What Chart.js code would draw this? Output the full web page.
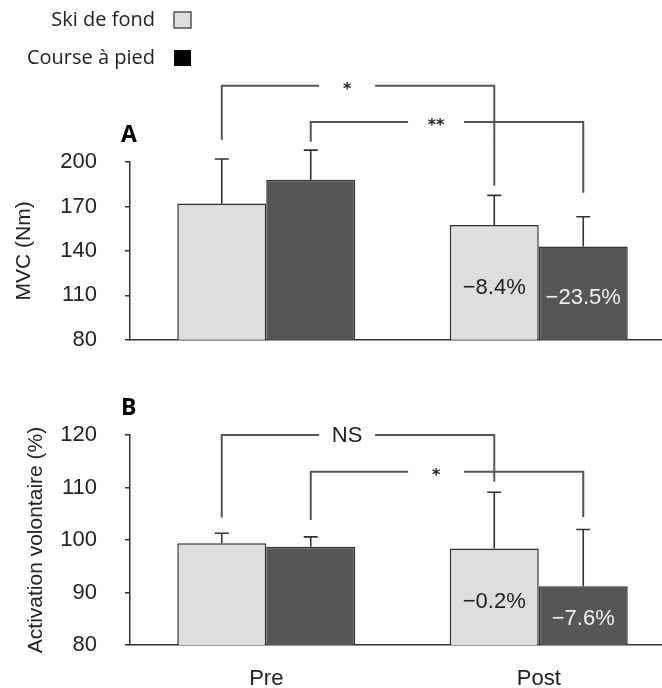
<!DOCTYPE html>
<html>
<head>
<meta charset="utf-8">
<script src="https://cdn.jsdelivr.net/npm/chart.js@4.4.1/dist/chart.umd.min.js"></script>
<style>
  html, body { margin: 0; padding: 0; background: #fff; overflow: hidden; }
  #wrap { position: relative; width: 662px; height: 688px; overflow: hidden; }
  #wrap canvas { position: absolute; left: 0; }
</style>
</head>
<body>
<div id="wrap">
  <canvas id="chartA" width="675" height="381" style="top:0"></canvas>
  <canvas id="chartB" width="675" height="308" style="top:380px"></canvas>
</div>
<script>
// --- data ---
const groups = ['Pre', 'Post'];
const seriesNames = ['Ski de fond', 'Course à pied'];

const mvcSki = [172, 157.5];
const mvcRun = [188, 143];
const mvcSkiErr = [30, 20];
const mvcRunErr = [20, 20];
const mvcChange = ['−8.4%', '−23.5%'];
const mvcTicks = [80, 110, 140, 170, 200];

const actSki = [99.4, 98.4];
const actRun = [98.7, 91.2];
const actSkiErr = [1.9, 10.7];
const actRunErr = [1.9, 10.8];
const actChange = ['−0.2%', '−7.6%'];
const actTicks = [80, 90, 100, 110, 120];

// significance brackets (values in axis units): Pre bar -> Post bar of one series
const mvcBrackets = [
    { series: 0, label: '*',  level: 251.5, fromLow: 215, toLow: 184 },
    { series: 1, label: '**', level: 227,   fromLow: 213.7, toLow: 179.3 }
];
const actBrackets = [
    { series: 0, label: 'NS', level: 120, fromLow: 104.3, toLow: 111.1 },
    { series: 1, label: '*',  level: 113, fromLow: 103.8, toLow: 104.4 }
];

// --- styles ---
const LIGHT = '#dedede', DARK = '#565656', EDGE = '#2e2e2e', INK = '#222', LINE = '#555';
const SANS = '"Liberation Sans", Arial, sans-serif';
const LEG_FONT = '"Open Sans", sans-serif';

function decor(cfg) {
    return {
        id: 'decor',
        afterDatasetsDraw(chart) {
            const ctx = chart.ctx, y = chart.scales.y, area = chart.chartArea;
            const base = y.getPixelForValue(y.min);
            ctx.save();

            // upper error bars
            cfg.errors.forEach((errs, s) => {
                chart.getDatasetMeta(s).data.forEach((bar, i) => {
                    const top = y.getPixelForValue(chart.data.datasets[s].data[i] + errs[i]);
                    ctx.strokeStyle = '#333'; ctx.lineWidth = 1.6;
                    ctx.beginPath();
                    ctx.moveTo(bar.x, bar.y); ctx.lineTo(bar.x, top);
                    ctx.moveTo(bar.x - 7, top); ctx.lineTo(bar.x + 7, top);
                    ctx.stroke();
                });
            });

            // % change inside the Post bars
            ctx.font = '22px ' + SANS;
            ctx.textAlign = 'center'; ctx.textBaseline = 'middle';
            cfg.change.forEach((txt, s) => {
                const bar = chart.getDatasetMeta(s).data[1];
                ctx.fillStyle = s === 0 ? INK : '#f2f2f2';
                ctx.fillText(txt, bar.x, base + 0.45 * (bar.y - base));
            });

            // brackets
            cfg.brackets.forEach(b => {
                const bars = chart.getDatasetMeta(b.series).data;
                const x1 = bars[0].x, x2 = bars[1].x;
                const yl = y.getPixelForValue(b.level);
                const mid = x1 + 0.46 * (x2 - x1);
                ctx.strokeStyle = LINE; ctx.lineWidth = 2;
                ctx.beginPath();
                ctx.moveTo(x1, y.getPixelForValue(b.fromLow)); ctx.lineTo(x1, yl); ctx.lineTo(mid - 28, yl);
                ctx.moveTo(mid + 28, yl); ctx.lineTo(x2, yl); ctx.lineTo(x2, y.getPixelForValue(b.toLow));
                ctx.stroke();
                ctx.fillStyle = INK;
                if (b.label === 'NS') {
                    ctx.font = '22px ' + SANS;
                    ctx.fillText(b.label, mid, yl + 1);
                } else {
                    ctx.font = 'bold 16px "DejaVu Sans", sans-serif';
                    ctx.fillText(b.label, mid, yl + 4);
                }
            });

            // panel letter
            ctx.font = 'bold 23px ' + LEG_FONT;
            ctx.textAlign = 'left'; ctx.textBaseline = 'middle';
            ctx.fillStyle = '#000';
            ctx.fillText(cfg.letter, area.left - 9, area.top - 27);

            // legend (top panel only), swatch to the right of the text
            if (cfg.legend) {
                ctx.font = '20px ' + LEG_FONT;
                ctx.textAlign = 'right';
                seriesNames.forEach((name, i) => {
                    const cy = 20 + i * 38;
                    ctx.fillStyle = INK;
                    ctx.fillText(name, 155, cy);
                    ctx.fillStyle = i === 0 ? LIGHT : '#000';
                    ctx.fillRect(174, cy - 8, 17, 16);
                    if (i === 0) {
                        ctx.strokeStyle = '#555'; ctx.lineWidth = 1.5;
                        ctx.strokeRect(174, cy - 8, 17, 16);
                    }
                });
            }
            ctx.restore();
        }
    };
}

function makeChart(id, o) {
    return new Chart(document.getElementById(id), {
        type: 'bar',
        data: {
            labels: groups,
            datasets: [
                { label: seriesNames[0], data: o.ski, backgroundColor: LIGHT, borderColor: EDGE, borderWidth: 1.5, borderSkipped: false },
                { label: seriesNames[1], data: o.run, backgroundColor: DARK, borderColor: EDGE, borderWidth: 1.5, borderSkipped: false }
            ]
        },
        options: {
            responsive: false,
            animation: false,
            layout: { padding: { top: o.padTop, left: 0, right: 0, bottom: 0 } },
            datasets: { bar: { categoryPercentage: 0.653, barPercentage: 1 } },
            plugins: { legend: { display: false }, tooltip: { enabled: false } },
            scales: {
                x: {
                    offset: true,
                    grid: { display: false },
                    border: { color: '#333', width: 1.5 },
                    ticks: { display: o.showX, color: INK, padding: 13, font: { family: SANS, size: 22 } },
                    afterFit: s => { s.height = o.xHeight; }
                },
                y: {
                    min: o.ticks[0], max: o.ticks[o.ticks.length - 1],
                    afterBuildTicks: s => { s.ticks = o.ticks.map(v => ({ value: v })); },
                    grid: { drawOnChartArea: false, drawTicks: true, tickLength: 5, color: '#333', lineWidth: 1.5 },
                    border: { color: '#333', width: 1.5 },
                    ticks: { color: INK, padding: 28, font: { family: SANS, size: 22 } },
                    title: { display: true, text: o.title, color: INK, padding: { top: o.titlePad, bottom: 0 }, font: { family: SANS, size: 21 } },
                    afterFit: s => { s.width = 130; }
                }
            }
        },
        plugins: [decor({ errors: o.errors, change: o.change, brackets: o.brackets, letter: o.letter, legend: o.legend })]
    });
}

// bottom of panel A is set by the y tick-label overhang (about 41px), so the canvas is sized for it
makeChart('chartA', {
    ski: mvcSki, run: mvcRun, errors: [mvcSkiErr, mvcRunErr], change: mvcChange,
    brackets: mvcBrackets, ticks: mvcTicks, title: 'MVC (Nm)', letter: 'A', legend: true,
    padTop: 162, xHeight: 20, showX: false, titlePad: 12
});
makeChart('chartB', {
    ski: actSki, run: actRun, errors: [actSkiErr, actRunErr], change: actChange,
    brackets: actBrackets, ticks: actTicks, title: 'Activation volontaire (%)', letter: 'B', legend: false,
    padTop: 55, xHeight: 43, showX: true, titlePad: 24
});
</script>
</body>
</html>
